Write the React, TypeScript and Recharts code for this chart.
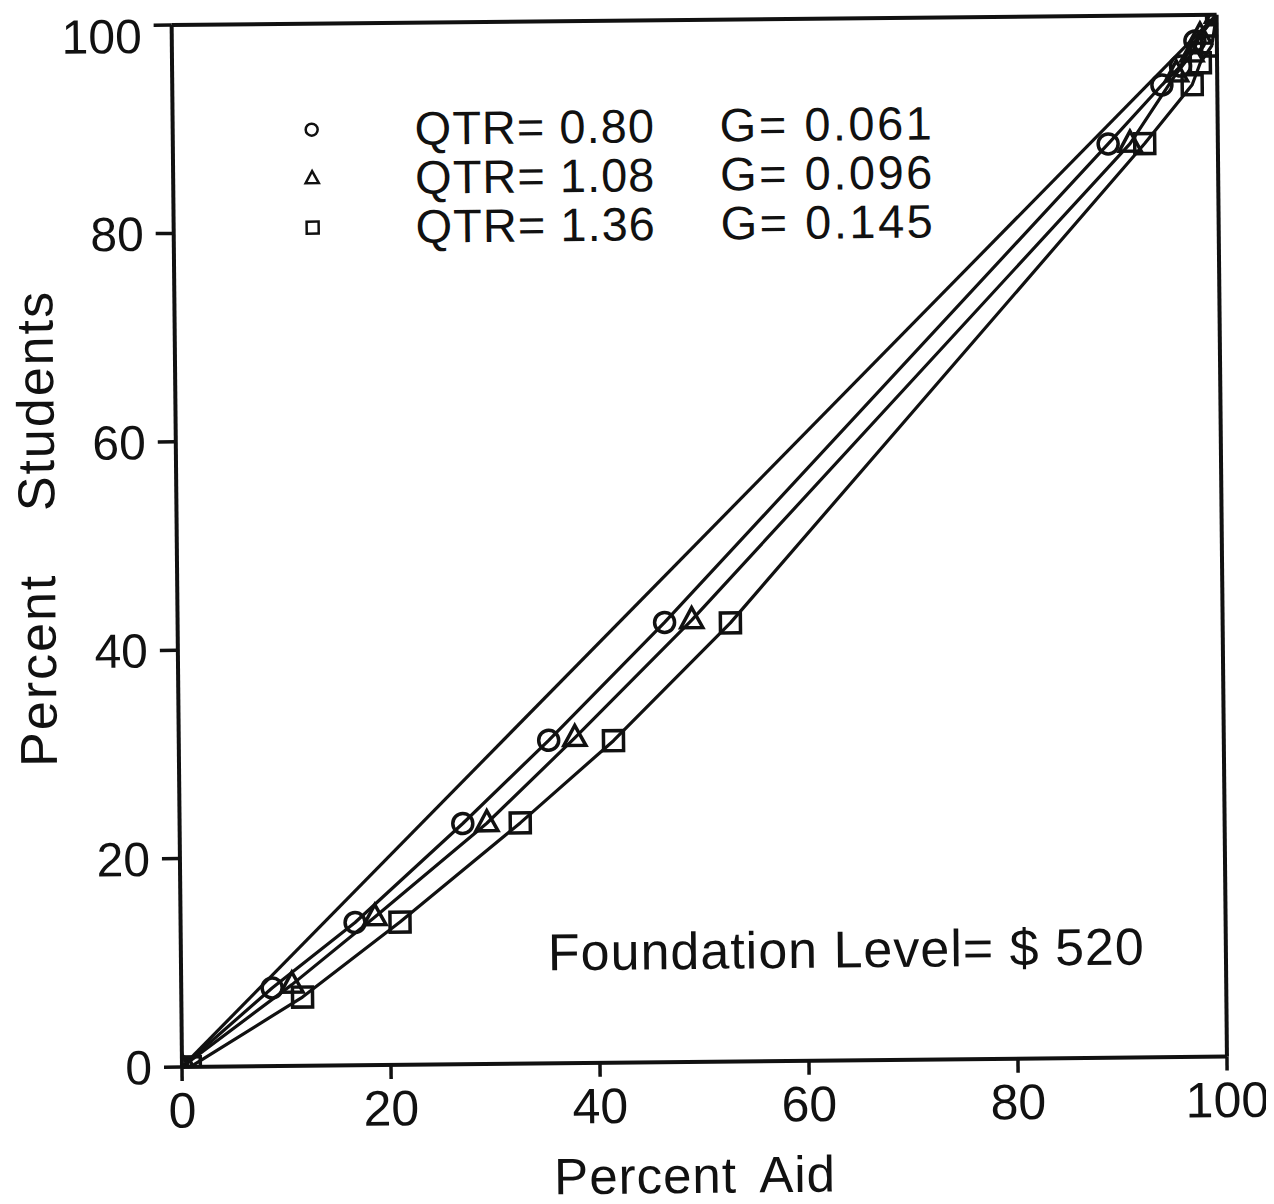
import { LineChart, Line, XAxis, YAxis, ReferenceLine, Label, Legend } from "recharts";

// axis ticks
const X_TICKS = [0, 20, 40, 60, 80, 100];
const Y_TICKS = [0, 20, 40, 60, 80, 100];

// line of equality
const EQUALITY = [
  { x: 0, y: 0 },
  { x: 100, y: 100 },
];

// curves (percent aid, percent students)
const QTR_080 = [
  { x: 0, y: 0 },
  { x: 8.7, y: 7.5 },
  { x: 16.7, y: 13.7 },
  { x: 27.1, y: 23.1 },
  { x: 35.4, y: 31.0 },
  { x: 46.6, y: 42.2 },
  { x: 89.5, y: 87.7 },
  { x: 94.7, y: 93.3 },
  { x: 96.5, y: 95.1 },
  { x: 97.9, y: 97.5 },
  { x: 100, y: 100 },
];
const QTR_108 = [
  { x: 0, y: 0 },
  { x: 10.6, y: 7.8 },
  { x: 18.6, y: 14.2 },
  { x: 29.4, y: 23.1 },
  { x: 37.9, y: 31.2 },
  { x: 49.2, y: 42.4 },
  { x: 91.6, y: 87.7 },
  { x: 96.1, y: 94.4 },
  { x: 97.6, y: 96.3 },
  { x: 98.4, y: 98.0 },
  { x: 100, y: 100 },
];
const QTR_136 = [
  { x: 0.8, y: 0 },
  { x: 11.6, y: 6.6 },
  { x: 21.0, y: 13.7 },
  { x: 32.6, y: 23.1 },
  { x: 41.6, y: 30.9 },
  { x: 52.9, y: 42.1 },
  { x: 93.0, y: 87.7 },
  { x: 97.6, y: 93.3 },
  { x: 98.4, y: 95.4 },
  { x: 99.5, y: 97.0 },
  { x: 100, y: 100 },
];

const SERIES_LABELS = ["QTR= 0.80", "QTR= 1.08", "QTR= 1.36"];
const GINI_LABELS = ["G= 0.061", "G= 0.096", "G= 0.145"];
const SHAPES = ["circle", "triangle", "square"];
const NOTE = "Foundation Level= $ 520";

const INK = "#111";
const FONT = "'Liberation Sans', Arial, sans-serif";

function Marker({ cx, cy, shape, size = 10, sw = 3.5 }: any) {
  if (cx == null || cy == null) return null;
  if (shape === "circle") {
    return <circle cx={cx} cy={cy} r={size} fill="none" stroke={INK} strokeWidth={sw} />;
  }
  if (shape === "triangle") {
    const h = size * 1.25;
    return (
      <polygon
        points={`${cx},${cy - h} ${cx - size * 1.1},${cy + size * 0.75} ${cx + size * 1.1},${cy + size * 0.75}`}
        fill="none"
        stroke={INK}
        strokeWidth={sw}
      />
    );
  }
  return (
    <rect x={cx - size} y={cy - size} width={size * 2} height={size * 2} fill="none" stroke={INK} strokeWidth={sw} />
  );
}

function dotFor(shape: string) {
  return (props: any) => <Marker key={`${shape}-${props.index}`} cx={props.cx} cy={props.cy} shape={shape} />;
}

function LegendBox() {
  return (
    <div style={{ fontFamily: FONT, fontSize: 47, color: INK, lineHeight: "44px" }}>
      {SERIES_LABELS.map((s, i) => (
        <div key={s} style={{ display: "flex", alignItems: "center", height: 49 }}>
          <svg width={125} height={44} style={{ flex: "none" }}>
            <Marker cx={22} cy={22} shape={SHAPES[i]} size={6} sw={2.5} />
          </svg>
          <span style={{ width: 305, flex: "none", whiteSpace: "pre", letterSpacing: 1 }}>{s}</span>
          <span style={{ whiteSpace: "pre", letterSpacing: 2.5 }}>{GINI_LABELS[i]}</span>
        </div>
      ))}
    </div>
  );
}

export default function App() {
  const xTick = { fontSize: 50, fill: INK, fontFamily: FONT };
  const yTick = { fontSize: 48, fill: INK, fontFamily: FONT };
  return (
    // the scanned figure sits slightly rotated on the page
    <div
      style={{
        position: "relative",
        width: 1266,
        height: 1196,
        background: "#fff",
        transform: "rotate(-0.57deg)",
        transformOrigin: "174px 1059px",
      }}
    >
      <LineChart
        width={1266}
        height={1196}
        margin={{ top: 17, right: 47, left: 44, bottom: 47 }}
        style={{ fontFamily: FONT }}
      >
        <XAxis
          type="number"
          dataKey="x"
          domain={[0, 100]}
          ticks={X_TICKS}
          allowDataOverflow
          height={90}
          tickSize={14}
          tickMargin={11}
          tick={xTick}
          axisLine={{ stroke: INK, strokeWidth: 4 }}
          tickLine={{ stroke: INK, strokeWidth: 3.5 }}
        >
          <Label
            content={() => (
              <text
                x={686}
                y={1190}
                textAnchor="middle"
                fontSize={51}
                fill={INK}
                fontFamily={FONT}
                letterSpacing={1}
                wordSpacing={10}
              >
                Percent Aid
              </text>
            )}
          />
        </XAxis>
        <YAxis
          type="number"
          dataKey="y"
          domain={[0, 100]}
          ticks={Y_TICKS}
          allowDataOverflow
          width={130}
          tickSize={18}
          tickMargin={12}
          tick={yTick}
          axisLine={{ stroke: INK, strokeWidth: 4 }}
          tickLine={{ stroke: INK, strokeWidth: 3.5 }}
        >
          <Label
            content={() => (
              <text
                x={34}
                y={519}
                transform="rotate(-90 34 519)"
                textAnchor="middle"
                dominantBaseline="central"
                fontSize={52}
                fill={INK}
                fontFamily={FONT}
                letterSpacing={2}
                wordSpacing={46}
              >
                Percent Students
              </text>
            )}
          />
        </YAxis>
        <ReferenceLine y={100} stroke={INK} strokeWidth={4} />
        <ReferenceLine x={100} stroke={INK} strokeWidth={4} />
        <Legend
          layout="horizontal"
          verticalAlign="middle"
          align="center"
          content={() => <LegendBox />}
          wrapperStyle={{ position: "absolute", left: 291, top: 98, width: "auto", height: "auto" }}
        />
        <Line data={EQUALITY} dataKey="y" stroke={INK} strokeWidth={3.2} dot={false} activeDot={false} isAnimationActive={false} legendType="none" />
        <Line data={QTR_080} dataKey="y" type="linear" stroke={INK} strokeWidth={3.2} strokeLinejoin="round" dot={dotFor("circle")} activeDot={false} isAnimationActive={false} />
        <Line data={QTR_108} dataKey="y" type="linear" stroke={INK} strokeWidth={3.2} strokeLinejoin="round" dot={dotFor("triangle")} activeDot={false} isAnimationActive={false} />
        <Line data={QTR_136} dataKey="y" type="linear" stroke={INK} strokeWidth={3.2} strokeLinejoin="round" dot={dotFor("square")} activeDot={false} isAnimationActive={false} />
      </LineChart>
      <div
        style={{
          position: "absolute",
          left: 541,
          top: 918,
          fontFamily: FONT,
          fontSize: 52,
          color: INK,
          whiteSpace: "pre",
          letterSpacing: 1,
        }}
      >
        {NOTE}
      </div>
    </div>
  );
}
